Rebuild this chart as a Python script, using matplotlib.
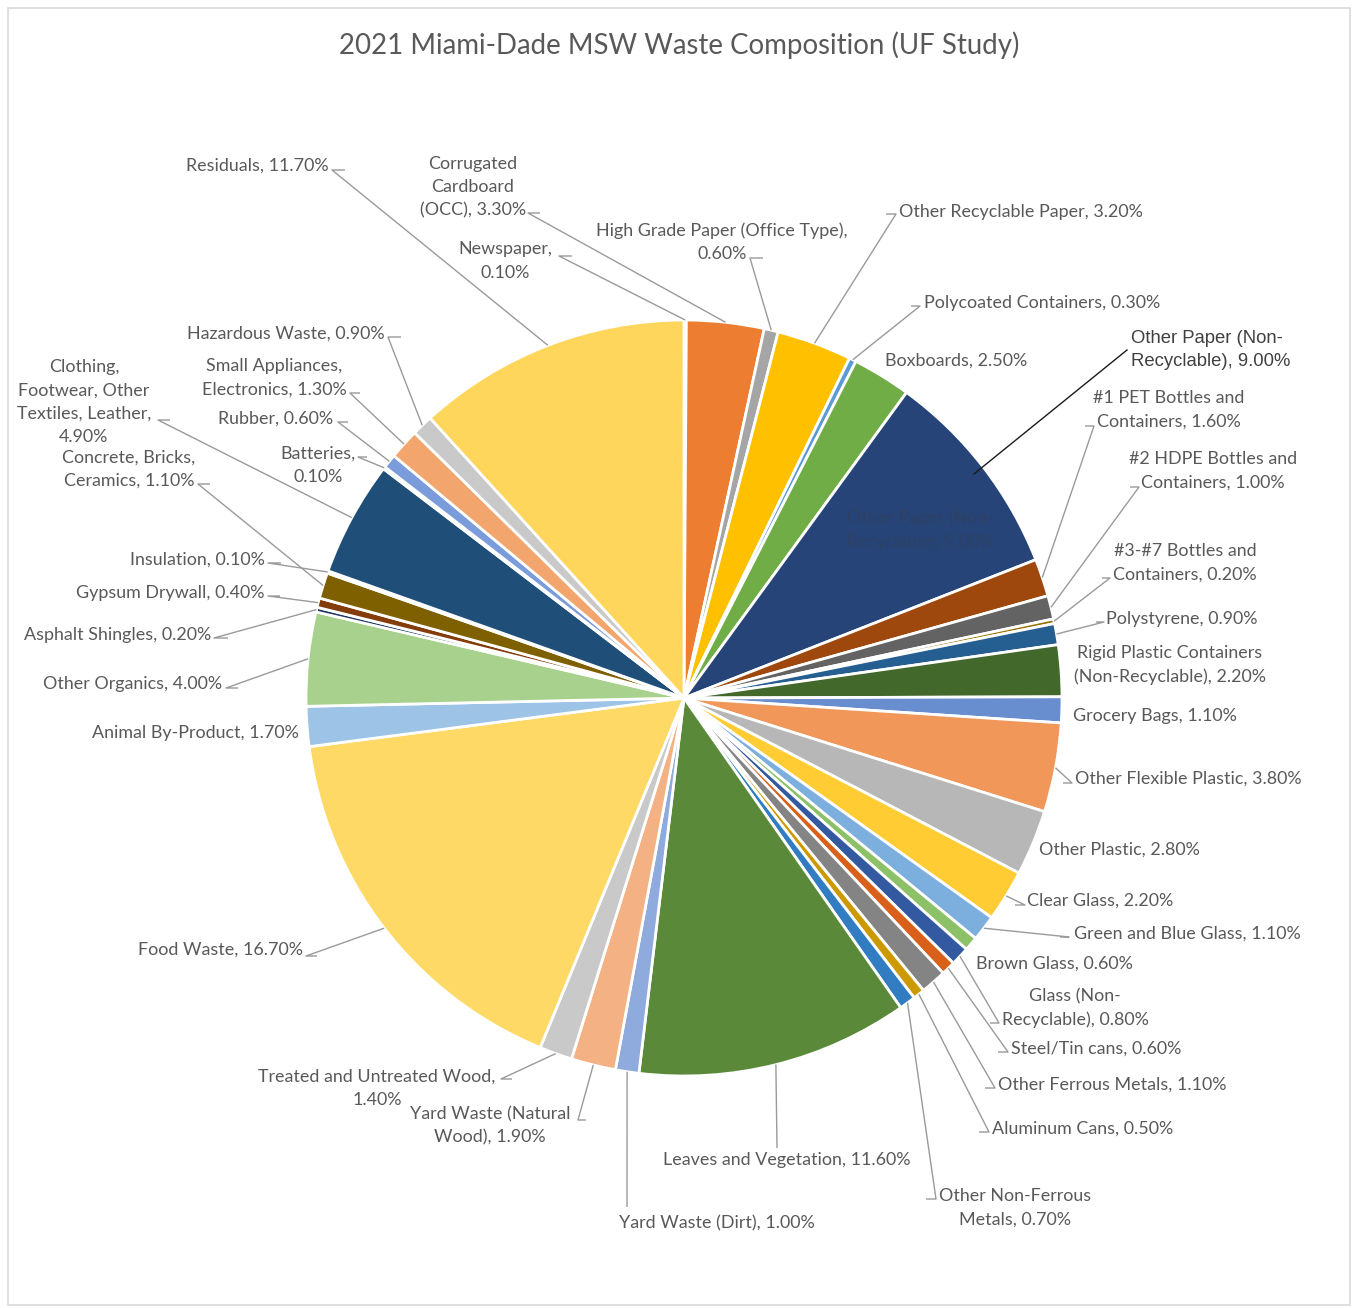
import numpy as np
import matplotlib.pyplot as plt
from matplotlib.patches import Rectangle

# Waste categories, clockwise from 12 o'clock
categories = [
    "Newspaper", "Corrugated Cardboard (OCC)", "High Grade Paper (Office Type)",
    "Other Recyclable Paper", "Polycoated Containers", "Boxboards",
    "Other Paper (Non-Recyclable)", "#1 PET Bottles and Containers",
    "#2 HDPE Bottles and Containers", "#3-#7 Bottles and Containers",
    "Polystyrene", "Rigid Plastic Containers (Non-Recyclable)", "Grocery Bags",
    "Other Flexible Plastic", "Other Plastic", "Clear Glass",
    "Green and Blue Glass", "Brown Glass", "Glass (Non-Recyclable)",
    "Steel/Tin cans", "Other Ferrous Metals", "Aluminum Cans",
    "Other Non-Ferrous Metals", "Leaves and Vegetation", "Yard Waste (Dirt)",
    "Yard Waste (Natural Wood)", "Treated and Untreated Wood", "Food Waste",
    "Animal By-Product", "Other Organics", "Asphalt Shingles", "Gypsum Drywall",
    "Concrete, Bricks, Ceramics", "Insulation",
    "Clothing, Footwear, Other Textiles, Leather", "Batteries", "Rubber",
    "Small Appliances, Electronics", "Hazardous Waste", "Residuals",
]
percent = [
    0.1, 3.3, 0.6, 3.2, 0.3, 2.5, 9.0, 1.6, 1.0, 0.2, 0.9, 2.2, 1.1, 3.8, 2.8,
    2.2, 1.1, 0.6, 0.8, 0.6, 1.1, 0.5, 0.7, 11.6, 1.0, 1.9, 1.4, 16.7, 1.7,
    4.0, 0.2, 0.4, 1.1, 0.1, 4.9, 0.1, 0.6, 1.3, 0.9, 11.7,
]
colors = [
    "#4472C4", "#ED7D31", "#A5A5A5", "#FFC000", "#5B9BD5", "#70AD47",
    "#264478", "#9E480E", "#636363", "#997300", "#255E91", "#43682B",
    "#698ED0", "#F1975A", "#B7B7B7", "#FFCD33", "#7CAFDD", "#8CC168",
    "#335AA1", "#D9601A", "#848484", "#CC9A00", "#327DC2", "#5A8A39",
    "#8FAADC", "#F4B183", "#C9C9C9", "#FFD966", "#9DC3E6", "#A9D18E",
    "#203864", "#843C0C", "#7F6000", "#3A3060", "#1F4E79", "#385723",
    "#7A9CDB", "#F2A66E", "#C9C9C9", "#FFD65C",
]

W, H = 1353, 1308
CX, CY, R = 684, 698, 378          # pie centre / radius in pixels (y from top)
TXT = "#595959"
LEAD = "#9a9a9a"
FS = 12.9
LS = 1.56

# label layout: wrapped name, separator before value, block centre (px),
# leader path points from the text back toward the elbow (px, y from top)
layout = {
    "Newspaper": ("Newspaper", ",\n", (505, 261), [(559, 256), (572, 256)]),
    "Corrugated Cardboard (OCC)": ("Corrugated\nCardboard\n(OCC)", ", ", (473, 187), [(528, 213), (540, 213)]),
    "High Grade Paper (Office Type)": ("High Grade Paper (Office Type)", ",\n", (722, 242), [(750, 258), (763, 258)]),
    "Other Recyclable Paper": ("Other Recyclable Paper", ", ", (1021, 212), [(896, 214), (886, 214)]),
    "Polycoated Containers": ("Polycoated Containers", ", ", (1042, 303), [(920, 306), (911, 306)]),
    "Boxboards": ("Boxboards", ", ", (956, 361), None),
    "#1 PET Bottles and Containers": ("#1 PET Bottles and\nContainers", ", ", (1169, 410), [(1094, 426), (1085, 426)]),
    "#2 HDPE Bottles and Containers": ("#2 HDPE Bottles and\nContainers", ", ", (1213, 471), [(1139, 487), (1130, 487)]),
    "#3-#7 Bottles and Containers": ("#3-#7 Bottles and\nContainers", ", ", (1185, 563), [(1110, 578), (1102, 578)]),
    "Polystyrene": ("Polystyrene", ", ", (1182, 619), [(1104, 622), (1096, 622)]),
    "Rigid Plastic Containers (Non-Recyclable)": ("Rigid Plastic Containers\n(Non-Recyclable)", ", ", (1170, 665), None),
    "Grocery Bags": ("Grocery Bags", ", ", (1155, 716), None),
    "Other Flexible Plastic": ("Other Flexible Plastic", ", ", (1188, 779), [(1072, 783), (1063, 783)]),
    "Other Plastic": ("Other Plastic", ", ", (1119, 850), None),
    "Clear Glass": ("Clear Glass", ", ", (1100, 901), [(1025, 905), (1015, 905)]),
    "Green and Blue Glass": ("Green and Blue Glass", ", ", (1187, 934), [(1069, 937), (1060, 937)]),
    "Brown Glass": ("Brown Glass", ", ", (1054, 964), None),
    "Glass (Non-Recyclable)": ("Glass (Non-\nRecyclable)", ", ", (1075, 1008), [(999, 1023), (990, 1023)]),
    "Steel/Tin cans": ("Steel/Tin cans", ", ", (1096, 1049), [(1008, 1052), (998, 1052)]),
    "Other Ferrous Metals": ("Other Ferrous Metals", ", ", (1112, 1085), [(995, 1088), (985, 1088)]),
    "Aluminum Cans": ("Aluminum Cans", ", ", (1083, 1129), [(989, 1132), (979, 1132)]),
    "Other Non-Ferrous Metals": ("Other Non-Ferrous\nMetals", ", ", (1015, 1208), [(936, 1199), (926, 1199)]),
    "Leaves and Vegetation": ("Leaves and Vegetation", ", ", (787, 1160), [(777, 1148)]),
    "Yard Waste (Dirt)": ("Yard Waste (Dirt)", ", ", (717, 1223), [(627, 1207)]),
    "Yard Waste (Natural Wood)": ("Yard Waste (Natural\nWood)", ", ", (490, 1126), [(578, 1120), (586, 1120)]),
    "Treated and Untreated Wood": ("Treated and Untreated Wood", ",\n", (377, 1088), [(501, 1079), (512, 1079)]),
    "Food Waste": ("Food Waste", ", ", (220, 950), [(306, 956), (317, 956)]),
    "Animal By-Product": ("Animal By-Product", ", ", (195, 733), None),
    "Other Organics": ("Other Organics", ", ", (133, 684), [(226, 688), (238, 688)]),
    "Asphalt Shingles": ("Asphalt Shingles", ", ", (118, 635), [(214, 638), (228, 638)]),
    "Gypsum Drywall": ("Gypsum Drywall", ", ", (170, 593), [(268, 596), (280, 596)]),
    "Concrete, Bricks, Ceramics": ("Concrete, Bricks,\nCeramics", ", ", (129, 469), [(198, 484), (210, 484)]),
    "Insulation": ("Insulation", ", ", (197, 560), [(268, 563), (281, 563)]),
    "Clothing, Footwear, Other Textiles, Leather": ("Clothing,\nFootwear, Other\nTextiles, Leather", ",\n", (84, 402), [(158, 420), (170, 420)]),
    "Batteries": ("Batteries", ",\n", (318, 465), [(358, 457), (367, 457)]),
    "Rubber": ("Rubber", ", ", (276, 419), [(338, 422), (348, 422)]),
    "Small Appliances, Electronics": ("Small Appliances,\nElectronics", ", ", (274, 378), [(350, 393), (360, 393)]),
    "Hazardous Waste": ("Hazardous Waste", ", ", (286, 334), [(388, 337), (401, 337)]),
    "Residuals": ("Residuals", ", ", (257, 166), [(332, 170), (345, 170)]),
}


def py(y):
    return H - y


def edge_point(w, frac=1.0):
    mid = np.deg2rad((w.theta1 + w.theta2) / 2)
    return CX + frac * R * np.cos(mid), py(CY) + frac * R * np.sin(mid)


fig = plt.figure(figsize=(W / 100, H / 100), dpi=100)
ax = fig.add_axes([0, 0, 1, 1])
fig.patches.append(Rectangle((8 / W, 3 / H), (W - 11) / W, (H - 11) / H,
                             transform=fig.transFigure, fill=False,
                             edgecolor="#d9d9d9", linewidth=1.2))

wedges, _ = ax.pie(percent, colors=colors, startangle=90, counterclock=False,
                   center=(CX, py(CY)), radius=R,
                   wedgeprops=dict(edgecolor="white", linewidth=2))
ax.set_xlim(0, W)
ax.set_ylim(0, H)
ax.set_aspect("equal")
ax.axis("off")

for name, val, w in zip(categories, percent, wedges):
    if name == "Other Paper (Non-Recyclable)":
        continue
    wrapped, sep, (tx, ty), path = layout[name]
    label = f"{wrapped}{sep}{val:.2f}%"
    ax.text(tx, py(ty), label, ha="center", va="center", multialignment="center",
            fontsize=FS, color=TXT, family="Lato", linespacing=LS)
    if path:
        ex, ey = edge_point(w)
        xs = [p[0] for p in path][::-1] + [ex]
        ys = [py(p[1]) for p in path][::-1] + [ey]
        ax.plot(xs, ys, color=LEAD, lw=1, solid_capstyle="butt")

# the 9% paper slice: hand-placed label with a dark leader, plus faint in-slice text
i_op = categories.index("Other Paper (Non-Recyclable)")
op_val = percent[i_op]
ex, ey = edge_point(wedges[i_op], 0.97)
ax.plot([1127, ex], [py(350), ey], color="#1a1a1a", lw=1)
ax.text(1131, py(350), f"Other Paper (Non-\nRecyclable), {op_val:.2f}%",
        ha="left", va="center", fontsize=13.3, color="#404040",
        family="Liberation Sans", linespacing=1.5)
ax.text(920, py(530), f"Other Paper (Non-\nRecyclable), {op_val:.2f}%",
        ha="center", va="center", fontsize=FS, color="#2e4163",
        family="Lato", linespacing=LS)

ax.text(W / 2 + 3, py(45), "2021 Miami-Dade MSW Waste Composition (UF Study)",
        ha="center", va="center", fontsize=19.9, color=TXT, family="Lato")

fig.savefig("out.png", dpi=100, facecolor="white")
